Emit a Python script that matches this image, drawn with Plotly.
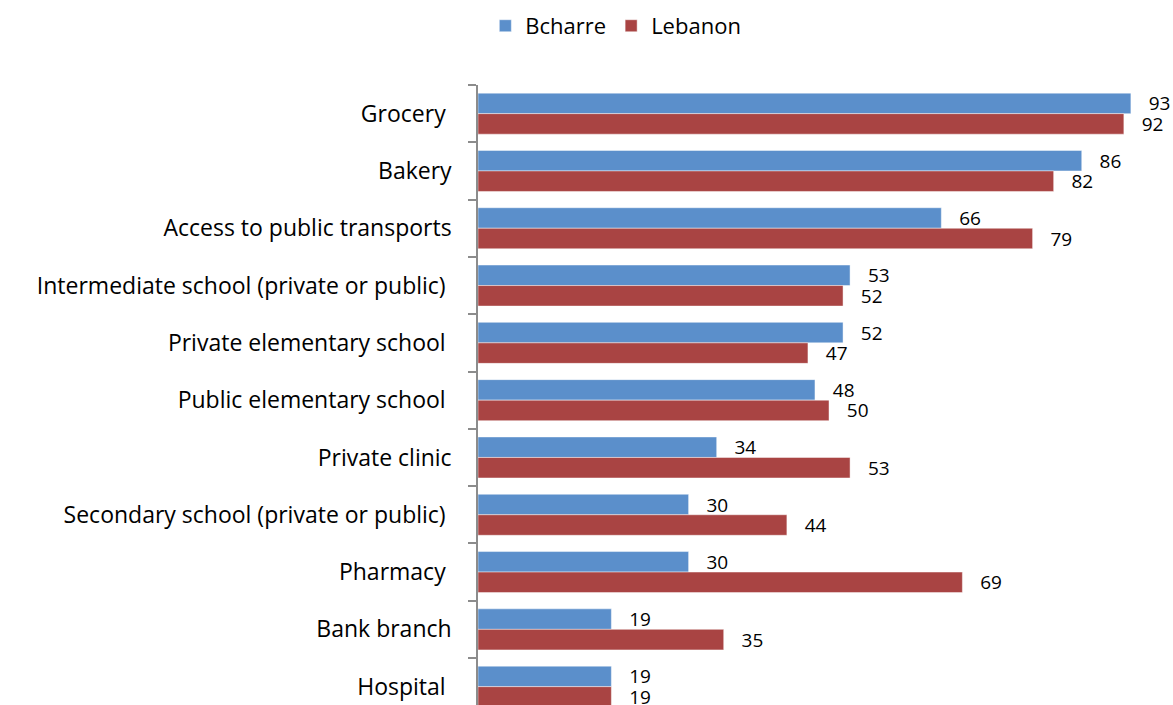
import plotly.graph_objects as go

NB = "\u00a0"
categories = [
    "Grocery" + NB,
    "Bakery",
    "Access to public transports",
    "Intermediate school (private or public)" + NB,
    "Private elementary school" + NB,
    "Public elementary school" + NB,
    "Private clinic",
    "Secondary school (private or public)" + NB,
    "Pharmacy" + NB,
    "Bank branch",
    "Hospital" + NB,
]
bcharre = [93, 86, 66, 53, 52, 48, 34, 30, 30, 19, 19]
lebanon = [92, 82, 79, 52, 47, 50, 53, 44, 69, 35, 19]

FONT = "Open Sans"
fig = go.Figure()
fig.add_trace(go.Bar(
    y=categories, x=bcharre, name="Bcharre", orientation="h",
    marker=dict(color="#5B8FCB", line=dict(color="rgba(255,255,255,0.45)", width=1)),
    text=bcharre, texttemplate=NB * 3 + "%{x}", textposition="outside",
    constraintext="none", cliponaxis=False,
    textfont=dict(family=FONT, size=19, color="#000000"),
))
fig.add_trace(go.Bar(
    y=categories, x=lebanon, name="Lebanon", orientation="h",
    marker=dict(color="#A94443", line=dict(color="rgba(255,255,255,0.45)", width=1)),
    text=lebanon, texttemplate=NB * 3 + "%{x}", textposition="outside",
    constraintext="none", cliponaxis=False,
    textfont=dict(family=FONT, size=19, color="#000000"),
))

fig.update_layout(
    width=1173, height=705,
    margin=dict(l=478, r=0, t=85, b=0),
    paper_bgcolor="white", plot_bgcolor="white",
    barmode="group", bargap=0.284, bargroupgap=0,
    font=dict(family=FONT, size=20, color="#000000"),
    showlegend=True,
    legend=dict(orientation="h", x=0.525, xref="container", xanchor="center",
                y=0.993, yref="container", yanchor="top",
                font=dict(family=FONT, size=22), traceorder="normal", itemwidth=30),
    xaxis=dict(range=[0, 99], visible=False, showgrid=False, zeroline=False),
    yaxis=dict(
        type="category", range=[10.32, -0.5],
        showline=True, linecolor="#8C8C8C", linewidth=1.5,
        ticks="outside", tickson="boundaries", ticklen=8, tickcolor="#8C8C8C", tickwidth=1.5,
        showgrid=False, zeroline=False,
        tickfont=dict(family=FONT, size=23, color="#000000"),
        ticklabelstandoff=20,
    ),
)

fig.write_html(
    "out.html",
    config={"displayModeBar": False},
    post_script="document.body.style.margin='0';document.body.style.overflow='hidden';",
)
